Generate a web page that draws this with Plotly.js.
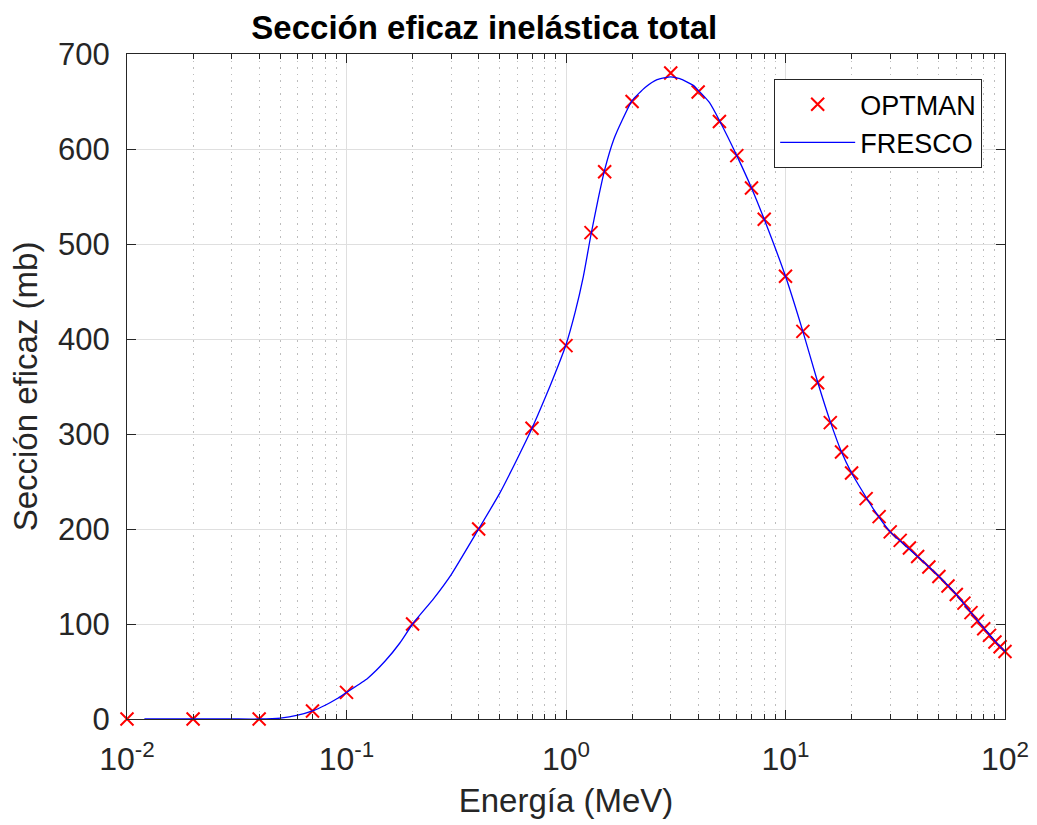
<!DOCTYPE html>
<html>
<head>
<meta charset="utf-8">
<script src="https://cdn.plot.ly/plotly-3.0.1.min.js"></script>
<style>html,body{margin:0;padding:0;background:#fff;}#chart{width:1037px;height:825px;}</style>
</head>
<body>
<div id="chart"></div>
<script>
// OPTMAN points (energy in MeV, cross section in mb)
const optmanE = [0.01, 0.02, 0.04, 0.07, 0.1, 0.2, 0.4, 0.7, 1.0, 1.3, 1.5, 2, 3, 4, 5, 6, 7, 8, 10, 12, 14, 16, 18, 20, 23.3, 26.7, 30, 33.3, 36.7, 40, 45, 50, 55, 60, 65, 70, 75, 80, 85, 90, 95, 100];
const optmanS = [0, 0, 0, 8.5, 28, 100, 200, 306, 393, 512, 576, 650, 680, 660, 629, 593, 559, 526, 466, 408, 354, 312, 281, 259, 232, 213, 197, 188, 180, 171, 160, 150, 140, 131, 122, 112, 103, 95, 88, 81, 76, 71];

// FRESCO curve
const frescoE = [0.012, 0.02, 0.03, 0.04, 0.05, 0.06, 0.07, 0.08, 0.09, 0.1, 0.125, 0.15, 0.175, 0.2, 0.25, 0.3, 0.4, 0.5, 0.6, 0.7, 0.8, 0.9, 1.0, 1.1, 1.2, 1.3, 1.4, 1.5, 1.65, 1.8, 2.0, 2.3, 2.6, 3.0, 3.3, 3.8, 4.0, 4.5, 5, 6, 7, 8, 10, 12, 14, 16, 18, 20, 25, 30, 35, 40, 50, 60, 70, 80, 90, 100];
const frescoS = [0, 0, 0, 0, 1, 4, 8.5, 14.5, 21, 28, 43, 61, 80, 100, 127, 152, 200, 238, 274, 306, 337, 366, 394, 428, 466, 510, 547, 578, 610, 630, 651, 665, 673, 676, 674, 667, 662, 649, 630, 593, 559, 526, 466, 408, 355, 313, 281, 259, 222, 197, 183, 171, 150, 131, 112, 96, 82, 71];

const xTickVals = [0.01, 0.1, 1, 10, 100];
const xTickText = ['10<sup>-2</sup>', '10<sup>-1</sup>', '10<sup>0</sup>', '10<sup>1</sup>', '10<sup>2</sup>'];
const yTickVals = [0, 100, 200, 300, 400, 500, 600, 700];

const titleText = 'Sección eficaz inelástica total';
const xTitle = 'Energía (MeV)';
const yTitle = 'Sección eficaz (mb)';

const FONT = 'Liberation Sans, Arial, Helvetica, sans-serif';
const axisCol = '#262626';

const traces = [
  {
    x: optmanE, y: optmanS, type: 'scatter', mode: 'markers', name: 'OPTMAN',
    cliponaxis: false,
    marker: {symbol: 'x-thin-open', size: 13, color: '#ff0000', line: {width: 2, color: '#ff0000'}}
  },
  {
    x: frescoE, y: frescoS, type: 'scatter', mode: 'lines', name: 'FRESCO',
    line: {color: '#0000ff', width: 1.3, shape: 'spline', smoothing: 0.5}
  }
];

const layout = {
  width: 1037, height: 825,
  paper_bgcolor: '#ffffff', plot_bgcolor: '#ffffff',
  margin: {l: 127, r: 32, t: 54, b: 106},
  font: {family: FONT, color: axisCol, size: 30},
  title: {
    text: '<b>' + titleText + '</b>',
    font: {family: FONT, size: 33, color: '#000000'},
    x: 0.467, xref: 'container', xanchor: 'center',
    y: 0.967, yref: 'container', yanchor: 'middle'
  },
  xaxis: {
    type: 'log', range: [-2, 2],
    tickvals: xTickVals, ticktext: xTickText,
    tickfont: {family: FONT, size: 32, color: axisCol},
    ticklabelstandoff: 12,
    ticks: 'inside', ticklen: 9, tickcolor: axisCol, tickwidth: 1,
    showline: true, linecolor: axisCol, linewidth: 1, mirror: 'ticks',
    showgrid: true, gridcolor: '#dfdfdf', gridwidth: 1,
    zeroline: false,
    minor: {dtick: 'D1', ticks: 'inside', ticklen: 5, tickcolor: axisCol, showgrid: true, gridcolor: '#bdbdbd', griddash: '1.5px,5px', gridwidth: 1},
    title: {text: xTitle, font: {family: FONT, size: 33, color: axisCol}, standoff: 12},
    automargin: false
  },
  yaxis: {
    range: [0, 700],
    tickvals: yTickVals,
    tickfont: {family: FONT, size: 31, color: axisCol},
    ticklabelstandoff: 10,
    ticks: 'inside', ticklen: 9, tickcolor: axisCol, tickwidth: 1,
    showline: true, linecolor: axisCol, linewidth: 1, mirror: 'ticks',
    showgrid: true, gridcolor: '#dfdfdf', gridwidth: 1,
    zeroline: false,
    title: {text: yTitle, font: {family: FONT, size: 33, color: axisCol}, standoff: 10},
    automargin: false
  },
  showlegend: true,
  legend: {
    x: 0.974, xanchor: 'right', y: 0.962, yanchor: 'top',
    bgcolor: '#ffffff', bordercolor: axisCol, borderwidth: 1,
    font: {family: FONT, size: 27, color: '#000000'},
    itemwidth: 75,
    tracegroupgap: 0
  }
};

Plotly.newPlot('chart', traces, layout, {staticPlot: true, displayModeBar: false});
</script>
</body>
</html>
